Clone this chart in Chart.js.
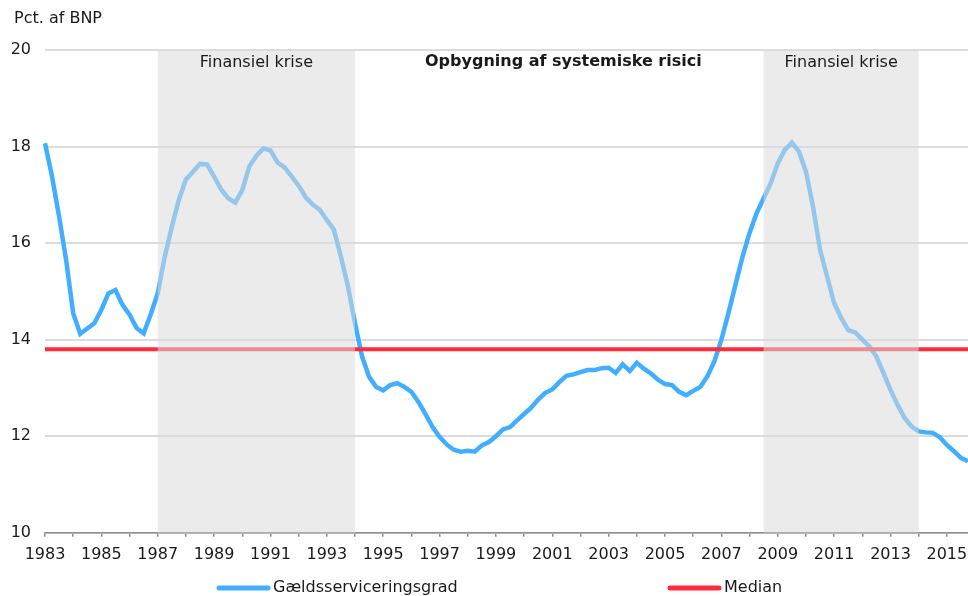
<!DOCTYPE html>
<html>
<head>
<meta charset="utf-8">
<script src="https://cdn.jsdelivr.net/npm/chart.js@4/dist/chart.umd.min.js"></script>
<style>
  body { margin: 0; background: #fff; }
</style>
</head>
<body>
<canvas id="chart" width="968" height="596"></canvas>
<script>
// Quarterly observations, 1983K1 - 2015K4
const firstYear = 1983;
const lastYear = 2015;
const quarters = [];
for (let y = firstYear; y <= lastYear; y++) {
  for (let q = 1; q <= 4; q++) quarters.push(y + 'K' + q);
}

// Gældsserviceringsgrad, pct. af BNP
const debtService = [
  18.07, 17.38, 16.55, 15.65,
  14.55, 14.12, 14.23, 14.34,
  14.62, 14.96, 15.03, 14.72,
  14.52, 14.24, 14.13, 14.52,
  14.96, 15.72, 16.34, 16.90,
  17.32, 17.48, 17.64, 17.63,
  17.38, 17.11, 16.93, 16.84,
  17.10, 17.59, 17.81, 17.96,
  17.92, 17.67, 17.57, 17.38,
  17.19, 16.95, 16.80, 16.69,
  16.48, 16.28, 15.72, 15.10,
  14.34, 13.65, 13.23, 13.02,
  12.95, 13.06, 13.10, 13.02,
  12.92, 12.71, 12.46, 12.19,
  11.99, 11.83, 11.72, 11.68,
  11.70, 11.68, 11.81, 11.88,
  12.00, 12.14, 12.19, 12.33,
  12.46, 12.59, 12.76, 12.90,
  12.97, 13.12, 13.25, 13.28,
  13.33, 13.37, 13.37, 13.41,
  13.42, 13.31, 13.49, 13.35,
  13.52, 13.40, 13.30, 13.17,
  13.08, 13.06, 12.92, 12.85,
  12.94, 13.02, 13.24, 13.55,
  14.00, 14.55, 15.14, 15.72,
  16.21, 16.62, 16.93, 17.24,
  17.65, 17.93, 18.08, 17.90,
  17.48, 16.76, 15.86, 15.31,
  14.76, 14.45, 14.20, 14.15,
  14.00, 13.86, 13.65, 13.31,
  12.96, 12.65, 12.38, 12.20,
  12.10, 12.08, 12.07, 11.98,
  11.82, 11.69, 11.55, 11.48
];

const median = 13.8;

// shaded periods (start, end) and their captions
const crisisStart = ['1987K1', '2008K3'];
const crisisEnd = ['1994K1', '2014K1'];
const crisisLabel = 'Finansiel krise';
const buildUpLabel = 'Opbygning af systemiske risici';

const yTicks = [10, 12, 14, 16, 18, 20];

const FONT = '"DejaVu Sans", Verdana, sans-serif';
const TEXT = '#1a1a1a';
const BLUE = '#41aeff';
const RED = '#ff2a3a';

// draws shading on top of the lines plus the captions, title and legend
const overlay = {
  id: 'overlay',
  afterDatasetsDraw(chart) {
    const { ctx, chartArea, scales } = chart;
    const x = scales.x;
    ctx.save();
    ctx.fillStyle = 'rgba(218,218,218,0.55)';
    const spans = [];
    for (let i = 0; i < crisisStart.length; i++) {
      const x1 = x.getPixelForValue(quarters.indexOf(crisisStart[i]));
      const x2 = x.getPixelForValue(quarters.indexOf(crisisEnd[i]));
      ctx.fillRect(x1, chartArea.top, x2 - x1, chartArea.bottom - chartArea.top);
      spans.push([x1, x2]);
    }
    ctx.fillStyle = TEXT;
    ctx.textAlign = 'center';
    ctx.textBaseline = 'middle';
    ctx.font = '16px ' + FONT;
    spans.forEach(s => ctx.fillText(crisisLabel, (s[0] + s[1]) / 2, chartArea.top + 13));
    ctx.font = 'bold 16px ' + FONT;
    ctx.fillText(buildUpLabel, (spans[0][1] + spans[1][0]) / 2 + 4, chartArea.top + 12);
    ctx.restore();
  },
  afterDraw(chart) {
    const ctx = chart.ctx;
    ctx.save();
    ctx.fillStyle = TEXT;
    ctx.font = '16px ' + FONT;
    ctx.textBaseline = 'middle';
    ctx.textAlign = 'left';
    ctx.fillText('Pct. af BNP', 14, 19);

    // legend
    const items = [[217, 0], [668, 1]];
    items.forEach(([lx, di]) => {
      const ds = chart.data.datasets[di];
      ctx.strokeStyle = ds.borderColor;
      ctx.lineWidth = 5;
      ctx.lineCap = 'round';
      ctx.beginPath();
      ctx.moveTo(lx + 2, 588);
      ctx.lineTo(lx + 51, 588);
      ctx.stroke();
      ctx.fillText(ds.label, lx + 56, 588);
    });
    ctx.restore();
  }
};

const ctx = document.getElementById('chart').getContext('2d');
const chart = new Chart(ctx, {
  type: 'line',
  data: {
    labels: quarters,
    datasets: [{
      label: 'Gældsserviceringsgrad',
      data: debtService,
      borderColor: BLUE,
      borderWidth: 4.5,
      pointRadius: 0,
      tension: 0,
      fill: false,
      order: 1
    }, {
      label: 'Median',
      data: [{ x: quarters[0], y: median }, { x: quarters[quarters.length - 1], y: median }],
      borderColor: RED,
      borderWidth: 4,
      pointRadius: 0,
      fill: false,
      order: 0
    }]
  },
  options: {
    responsive: false,
    animation: false,
    devicePixelRatio: 1,
    layout: { padding: { left: 10, top: 50, right: 0, bottom: 24 } },
    plugins: {
      legend: { display: false },
      tooltip: { enabled: false }
    },
    scales: {
      x: {
        type: 'category',
        offset: false,
        afterFit: axis => { axis.paddingLeft = 0; axis.paddingRight = 0; },
        grid: {
          drawOnChartArea: false,
          drawTicks: true,
          tickLength: 4,
          color: '#8c8c8c',
          lineWidth: 1.5
        },
        border: { display: true, color: '#8c8c8c', width: 1.5 },
        ticks: {
          autoSkip: false,
          maxRotation: 0,
          padding: 8,
          color: TEXT,
          font: { family: FONT, size: 16 },
          callback: function (value, index) {
            if (index % 8 === 0) return this.getLabelForValue(value).slice(0, 4);
            if (index % 4 === 0) return '';
            return null;
          }
        }
      },
      y: {
        min: 10,
        max: 20,
        afterBuildTicks: axis => { axis.ticks = yTicks.map(v => ({ value: v })); },
        afterFit: axis => { axis.width = 35; },
        grid: { drawTicks: false, color: '#dcdcdc', lineWidth: 2 },
        border: { display: false },
        ticks: {
          padding: 14,
          color: TEXT,
          font: { family: FONT, size: 16 }
        }
      }
    }
  },
  plugins: [overlay]
});
</script>
</body>
</html>
